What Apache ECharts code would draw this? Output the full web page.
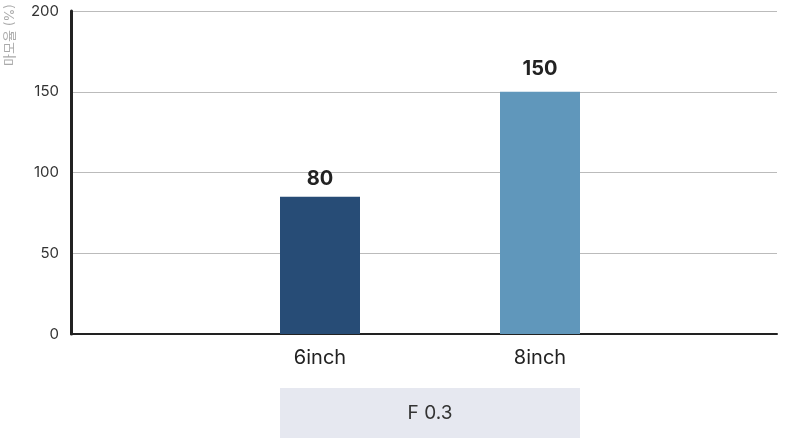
<!DOCTYPE html>
<html><head><meta charset="utf-8">
<script src="https://cdn.jsdelivr.net/npm/echarts@6/dist/echarts.min.js"></script>
<style>html,body{margin:0;padding:0;background:#fff}#c{width:790px;height:439px}</style>
</head><body><div id="c"></div>
<script>
const categories = ['6inch', '8inch'];
const groupName = ['F 0.3'];
const values = [85, 150];
const valueLabels = ['80', '150'];
const yTicks = { min: 0, max: 200, interval: 50 };
const axisName = '마모율 (%)';
const colors = ['#274C76', '#6097BB'];
const labelGaps = [8, 13];

const FONT = 'Inter, "Noto Sans CJK KR", sans-serif';
const chart = echarts.init(document.getElementById('c'), null, { renderer: 'canvas' });
chart.setOption({
  animation: false,
  textStyle: { fontFamily: FONT },
  grid: [
    { left: 71, right: 13, top: 11, bottom: 105 },
    { left: 210, right: 140, top: 11, bottom: 105 }
  ],
  xAxis: [
    { gridIndex: 0, type: 'category', data: [''], axisTick: { show: false }, axisLabel: { show: false },
      axisLine: { show: true, lineStyle: { color: '#222', width: 2 } } },
    { gridIndex: 1, type: 'category', data: categories, axisTick: { show: false }, axisLine: { show: false },
      axisLabel: { margin: 14, fontSize: 20, color: '#222', fontFamily: FONT } },
    { gridIndex: 1, type: 'category', position: 'bottom', data: groupName, axisTick: { show: false }, axisLine: { show: false },
      axisLabel: { margin: 54, fontSize: 19, color: '#333', fontFamily: FONT, backgroundColor: '#E6E8F0',
        width: 300, align: 'center', lineHeight: 20, padding: [15, 0, 15, 0] } }
  ],
  yAxis: [
    { gridIndex: 0, type: 'value', min: yTicks.min, max: yTicks.max, interval: yTicks.interval,
      axisLine: { show: true, lineStyle: { color: '#222', width: 3 } }, axisTick: { show: false },
      axisLabel: { margin: 12, fontSize: 15, color: '#333', fontFamily: FONT },
      splitLine: { lineStyle: { color: '#BBBBBB', width: 1 } } },
    { gridIndex: 1, type: 'value', min: yTicks.min, max: yTicks.max, interval: yTicks.interval, show: false,
      splitLine: { show: false } }
  ],
  graphic: [
    { type: 'text', x: 10, y: 35, rotation: Math.PI / 2,
      style: { text: axisName, fill: '#AAAAAA', fontSize: 13, fontFamily: FONT, align: 'center', verticalAlign: 'middle' } }
  ],
  series: [{
    type: 'bar', xAxisIndex: 1, yAxisIndex: 1, barWidth: 80,
    data: values.map((v, i) => ({ value: v, itemStyle: { color: colors[i] }, label: { distance: labelGaps[i] } })),
    label: { show: true, position: 'top', fontSize: 20, fontWeight: 'bold', color: '#222', fontFamily: FONT,
      formatter: p => valueLabels[p.dataIndex] }
  }]
});
</script></body></html>
